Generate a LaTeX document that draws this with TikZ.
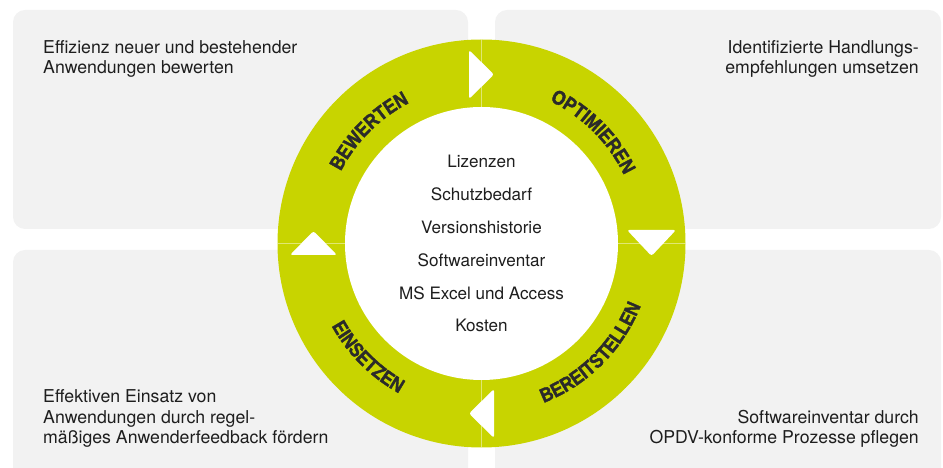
\documentclass[tikz,border=0pt]{standalone}
\usepackage{fontspec}
\setmainfont{TeX Gyre Heros}
\newfontfamily\labelfont[FakeStretch=0.86, FakeBold=2]{Liberation Sans Bold}
\usetikzlibrary{decorations.text}
\definecolor{ringgreen}{RGB}{200,212,0}
\definecolor{panelgray}{RGB}{242,242,242}
\definecolor{labelgray}{RGB}{42,42,42}
\definecolor{textblack}{RGB}{30,30,30}
\tikzset{
  panel/.style={fill=panelgray, rounded corners=12pt},
  bodytext/.style={font=\fontsize{17.7}{20.8}\selectfont, inner sep=0pt, text=textblack},
  centertext/.style={font=\fontsize{17.1}{32.8}\selectfont, inner sep=0pt, text=textblack, align=center},
  arrowtri/.style={fill=white, rounded corners=2.5pt},
  seam/.style={draw=white, draw opacity=0.45, line width=0.5pt},
  ringlabel/.style={decorate, decoration={text along path, text align=center,
      text={|\labelfont\fontsize{20}{20}\selectfont\color{labelgray}|#1}}}
}
\begin{document}
\begin{tikzpicture}[x=1pt,y=1pt]
\useasboundingbox (0,0) rectangle (943,468);
\clip (0,0) rectangle (943,468);
% panels
\fill[panel] (13,239) rectangle (468,458);
\fill[panel] (495,239) rectangle (941,458);
\fill[panel] (13,-20) rectangle (468,218);
\fill[panel] (495,-20) rectangle (941,218);
% ring
\coordinate (c) at (481.5,224.5);
\fill[ringgreen] (c) circle[radius=204];
\fill[white] (c) circle[radius=136.5];
% seams
\draw[seam] ([shift={(90:136.5)}]c) -- ([shift={(90:204)}]c);
\draw[seam] ([shift={(0:136.5)}]c) -- ([shift={(0:204)}]c);
\draw[seam] ([shift={(270:136.5)}]c) -- ([shift={(270:204)}]c);
\draw[seam] ([shift={(180:136.5)}]c) -- ([shift={(180:204)}]c);
% arrows
\fill[arrowtri] (469,418) -- (494,393.5) -- (469,369) -- cycle;
\fill[arrowtri] (627,238) -- (676,238) -- (651.5,212) -- cycle;
\fill[arrowtri] (494,79) -- (469,54.5) -- (494,30) -- cycle;
\fill[arrowtri] (290,213) -- (337,213) -- (313.5,237) -- cycle;
% ring labels
\path[ringlabel=BEWERTEN] ([shift={(180:158)}]c) arc[start angle=180, end angle=90, radius=158];
\path[ringlabel=OPTIMIEREN] ([shift={(90:158)}]c) arc[start angle=90, end angle=0, radius=158];
\path[ringlabel=BEREITSTELLEN] ([shift={(270:171)}]c) arc[start angle=270, end angle=360, radius=171];
\path[ringlabel=EINSETZEN] ([shift={(180:171)}]c) arc[start angle=180, end angle=270, radius=171];
% center text (base anchor = last line)
\node[centertext, anchor=base] (list) at (481.5,136) {Lizenzen\\Schutzbedarf\\Versionshistorie\\Softwareinventar\\MS Excel und Access\\Kosten};
% panel texts
\node[bodytext, anchor=base west, align=left] (tl) at (43,394) {Effizienz neuer und bestehender\\Anwendungen bewerten};
\node[bodytext, anchor=base east, align=right] (tr) at (919,394) {Identifizierte Handlungs-\\empfehlungen umsetzen};
\node[bodytext, anchor=base west, align=left] (bl) at (43,24) {Effektiven Einsatz von\\Anwendungen durch regel-\\mäßiges Anwenderfeedback fördern};
\node[bodytext, anchor=base east, align=right] (br) at (919,24) {Softwareinventar durch\\OPDV-konforme Prozesse pflegen};
\end{tikzpicture}
\end{document}
